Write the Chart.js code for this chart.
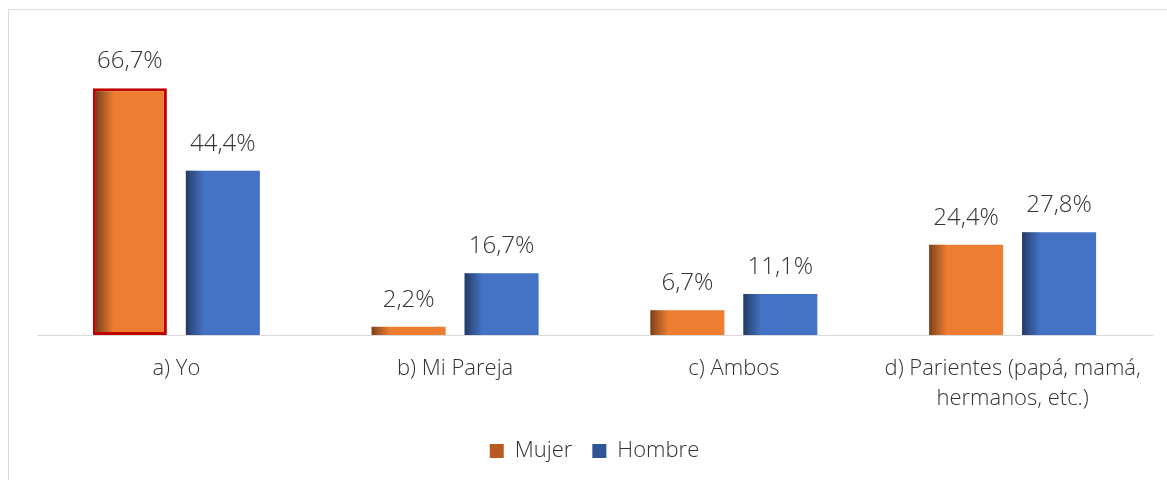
<!DOCTYPE html>
<html>
<head>
<meta charset="utf-8">
<script src="https://cdn.jsdelivr.net/npm/chart.js@4/dist/chart.umd.min.js"></script>
<style>
  body { margin: 0; background: #fff; overflow: hidden; }
  #frame { position: absolute; left: 8px; top: 9px; width: 1200px; height: 520px; border: 1px solid #d9d9d9; }
  #wrap { position: absolute; left: 0; top: 0; width: 1167px; height: 480px; }
</style>
</head>
<body>
<div id="frame"></div>
<div id="wrap"><canvas id="chart"></canvas></div>
<script>
// categories and values
const categories = [['a) Yo'], ['b) Mi Pareja'], ['c) Ambos'], ['d) Parientes (papá, mamá,', 'hermanos, etc.)']];
const seriesNames = ['Mujer', 'Hombre'];
const mujer = [66.7, 2.2, 6.7, 24.4];
const hombre = [44.4, 16.7, 11.1, 27.8];

const textColor = '#333333';
const fontFamily = '"Open Sans", "Noto Sans", sans-serif';

function fmt(v) {
    return v.toFixed(1).replace('.', ',') + '%';
}

// dark left edge on each bar, like the bevel in the original
const shadePlugin = {
    id: 'shade',
    afterDatasetsDraw(chart) {
        const ctx = chart.ctx;
        chart.data.datasets.forEach((ds, di) => {
            chart.getDatasetMeta(di).data.forEach((bar, i) => {
                const bw = Array.isArray(ds.borderWidth) ? ds.borderWidth[i] : 0;
                const left = bar.x - bar.width / 2 + bw;
                const top = bar.y + bw;
                const h = bar.base - bar.y - 2 * bw;
                if (h <= 0) return;
                const g = ctx.createLinearGradient(left, 0, left + 18, 0);
                g.addColorStop(0, 'rgba(0,0,0,0.5)');
                g.addColorStop(0.25, 'rgba(0,0,0,0.35)');
                g.addColorStop(1, 'rgba(0,0,0,0)');
                ctx.save();
                ctx.fillStyle = g;
                ctx.fillRect(left, top, 18, h);
                ctx.restore();
            });
        });
    }
};

// value labels above the bars
const labelPlugin = {
    id: 'valueLabels',
    afterDatasetsDraw(chart) {
        const ctx = chart.ctx;
        ctx.save();
        ctx.font = '300 24px ' + fontFamily;
        ctx.fillStyle = textColor;
        ctx.textAlign = 'center';
        ctx.textBaseline = 'middle';
        chart.data.datasets.forEach((ds, di) => {
            chart.getDatasetMeta(di).data.forEach((bar, i) => {
                ctx.fillText(fmt(ds.data[i]), bar.x, bar.y - 27);
            });
        });
        ctx.restore();
    }
};

const ctx = document.getElementById('chart').getContext('2d');

new Chart(ctx, {
    type: 'bar',
    data: {
        labels: categories,
        datasets: [
            {
                label: seriesNames[0],
                data: mujer,
                backgroundColor: '#ED7D31',
                borderColor: ['#C00000', 'rgba(0,0,0,0)', 'rgba(0,0,0,0)', 'rgba(0,0,0,0)'],
                borderWidth: [3, 0, 0, 0],
                borderSkipped: false,
                categoryPercentage: 0.667,
                barPercentage: 0.796,
            },
            {
                label: seriesNames[1],
                data: hombre,
                backgroundColor: '#4472C4',
                borderWidth: 0,
                categoryPercentage: 0.667,
                barPercentage: 0.796,
            },
        ],
    },
    options: {
        responsive: true,
        maintainAspectRatio: false,
        animation: false,
        layout: { padding: { top: 39, left: 37, right: 15, bottom: 8 } },
        plugins: {
            legend: {
                position: 'bottom',
                labels: {
                    boxWidth: 14,
                    boxHeight: 14,
                    padding: 20,
                    color: textColor,
                    font: { family: fontFamily, size: 22, weight: '300' },
                    generateLabels: function (chart) {
                        const fills = ['#B85A22', '#2F5597'];
                        return chart.data.datasets.map((ds, i) => ({
                            text: ds.label,
                            fillStyle: fills[i],
                            strokeStyle: fills[i],
                            lineWidth: 0,
                            datasetIndex: i,
                            fontColor: textColor,
                        }));
                    },
                },
            },
            tooltip: { enabled: false },
        },
        scales: {
            x: {
                grid: { display: false, drawTicks: false },
                border: { display: true, color: '#d9d9d9', width: 1 },
                ticks: {
                    color: textColor,
                    padding: 19,
                    maxRotation: 0,
                    font: { family: fontFamily, size: 22, weight: '300', lineHeight: 1.36 },
                },
                afterFit: function (scale) { scale.height = 85; },
            },
            y: {
                display: false,
                min: 0,
                max: 80,
            },
        },
    },
    plugins: [shadePlugin, labelPlugin],
});
</script>
</body>
</html>
